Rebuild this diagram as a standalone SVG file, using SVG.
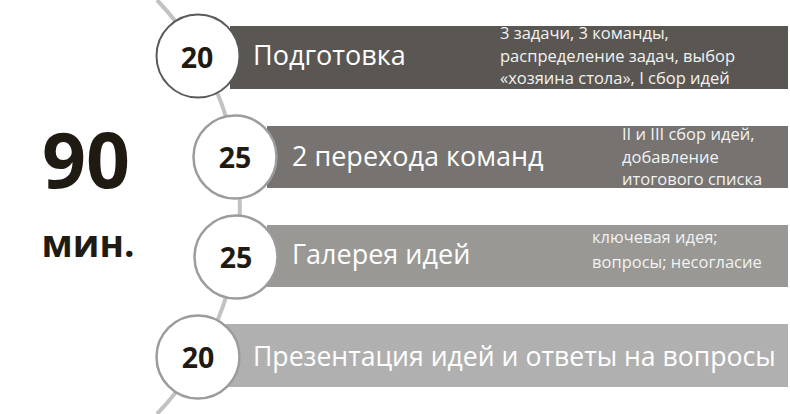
<svg xmlns="http://www.w3.org/2000/svg" width="790" height="414" viewBox="0 0 790 414">
<style>
.num{font-family:"Open Sans","Liberation Sans",sans-serif;font-weight:bold;font-size:28.5px;fill:#1f1a12;text-anchor:middle}
.big{font-family:"Open Sans","Liberation Sans",sans-serif;font-weight:bold;fill:#1f1a12;text-anchor:middle}
.title{font-family:"Open Sans","Liberation Sans",sans-serif;font-size:27px;fill:#ffffff}
.note{font-family:"Open Sans","Liberation Sans",sans-serif;font-size:16.5px;fill:#f2f2f2}
.ring{fill:#ffffff;stroke:#9c9c9c;stroke-width:2.5}
</style>
<rect width="790" height="414" fill="#ffffff"/>
<g id="connectors">
<path d="M157,0 A300,300 0 0 1 157,414" fill="none" stroke="#c2c2c2" stroke-width="4"/>
</g>
<g id="total">
<text class="big" x="86" y="188" font-size="77">90</text>
<text class="big" x="88" y="257" font-size="37">мин.</text>
</g>
<g id="step1">
<rect x="230" y="26" width="558" height="63" fill="#5a5753"/>
<circle class="ring" cx="198" cy="56" r="41.5" style="stroke:#5a5a5a;stroke-width:2"/>
<text class="num" x="197" y="68">20</text>
<text class="title" x="253" y="65">Подготовка</text>
<text class="note" x="500" y="39">3 задачи, 3 команды,</text>
<text class="note" x="500" y="62">распределение задач, выбор</text>
<text class="note" x="500" y="84">«хозяина стола», I сбор идей</text>
</g>
<g id="step2">
<rect x="267" y="126" width="521" height="62" fill="#767371"/>
<circle class="ring" cx="235" cy="157" r="41.5"/>
<text class="num" x="235" y="168">25</text>
<text class="title" x="292" y="166">2 перехода команд</text>
<text class="note" x="622" y="140">II и III сбор идей,</text>
<text class="note" x="622" y="163">добавление</text>
<text class="note" x="622" y="185">итогового списка</text>
</g>
<g id="step3">
<rect x="267" y="225" width="521" height="62" fill="#999894"/>
<circle class="ring" cx="236" cy="257" r="41.5"/>
<text class="num" x="236" y="268">25</text>
<text class="title" x="292" y="264">Галерея идей</text>
<text class="note" x="592" y="243">ключевая идея;</text>
<text class="note" x="592" y="268">вопросы; несогласие</text>
</g>
<g id="step4">
<rect x="222" y="324" width="566" height="63" fill="#b1b0b0"/>
<circle class="ring" cx="198" cy="357" r="41.5"/>
<text class="num" x="198" y="368">20</text>
<text class="title" x="253" y="366" style="font-size:26.6px">Презентация идей и ответы на вопросы</text>
</g>
</svg>
